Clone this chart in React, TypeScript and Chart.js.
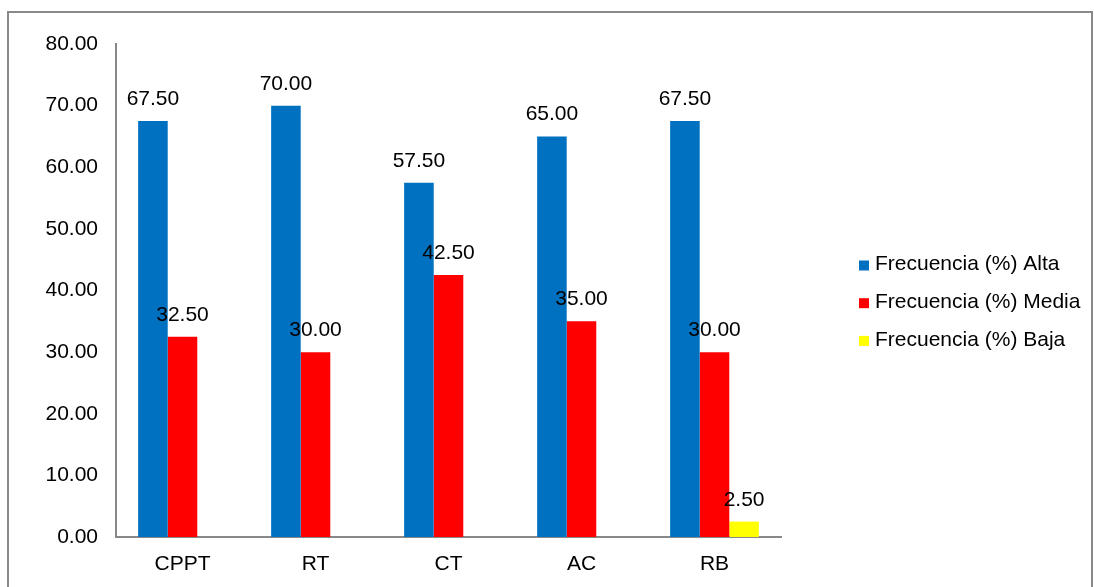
import React, { useEffect, useRef } from "react";
import { Chart, registerables } from "chart.js";

Chart.register(...registerables);

const categories = ["CPPT", "RT", "CT", "AC", "RB"];
const alta = [67.5, 70.0, 57.5, 65.0, 67.5];
const media = [32.5, 30.0, 42.5, 35.0, 30.0];
const baja = [null, null, null, null, 2.5];
const seriesNames = ["Frecuencia (%) Alta", "Frecuencia (%) Media", "Frecuencia (%) Baja"];
const seriesColors = ["#0070C0", "#FF0000", "#FFFF00"];

const FONT = '"Liberation Sans", Arial, sans-serif';

const valueLabels = {
  id: "valueLabels",
  afterDatasetsDraw(chart: any) {
    const ctx = chart.ctx;
    ctx.save();
    ctx.font = `21px ${FONT}`;
    ctx.fillStyle = "#000";
    ctx.textAlign = "center";
    ctx.textBaseline = "alphabetic";
    chart.data.datasets.forEach((ds: any, i: number) => {
      const meta = chart.getDatasetMeta(i);
      meta.data.forEach((el: any, j: number) => {
        const v = ds.data[j];
        if (v == null) return;
        ctx.fillText(Number(v).toFixed(2), el.x, el.y - 16);
      });
    });
    ctx.restore();
  },
};

// Legend drawn to the right of the plot area
const sideLegend = {
  id: "sideLegend",
  afterDraw(chart: any) {
    const ctx = chart.ctx;
    const boxX = 859;
    const firstY = 265.5;
    const step = 37.7;
    ctx.save();
    ctx.font = `21px ${FONT}`;
    ctx.textAlign = "left";
    ctx.textBaseline = "middle";
    chart.data.datasets.forEach((ds: any, i: number) => {
      const cy = firstY + i * step;
      ctx.fillStyle = ds.backgroundColor;
      ctx.fillRect(boxX, cy - 5, 10, 10);
      ctx.fillStyle = "#000";
      ctx.fillText(ds.label, boxX + 16, cy - 1);
    });
    ctx.restore();
  },
};

export default function App() {
  const ref = useRef<HTMLCanvasElement | null>(null);
  useEffect(() => {
    document.body.style.overflow = "hidden";
    const chart = new Chart(ref.current as HTMLCanvasElement, {
      type: "bar",
      data: {
        labels: categories,
        datasets: [alta, media, baja].map((d, i) => ({
          label: seriesNames[i],
          data: d,
          backgroundColor: seriesColors[i],
          borderWidth: 0,
          categoryPercentage: 0.667,
          barPercentage: 1,
        })),
      },
      options: {
        animation: false,
        responsive: false,
        layout: { padding: { top: 44, left: 0, right: 313, bottom: 0 } },
        plugins: {
          tooltip: { enabled: false },
          legend: { display: false },
        },
        scales: {
          x: {
            grid: { display: false },
            border: { display: true, color: "#888888", width: 2 },
            ticks: { color: "#000", padding: 7, font: { family: FONT, size: 21 } },
            afterFit: (s: any) => {
              s.height = 50;
            },
          },
          y: {
            min: 0,
            max: 80,
            grid: { display: false, drawTicks: false },
            border: { display: true, color: "#888888", width: 2 },
            ticks: {
              stepSize: 10,
              color: "#000",
              padding: 18,
              font: { family: FONT, size: 21 },
              callback: (v: any) => Number(v).toFixed(2),
            },
            afterFit: (s: any) => {
              s.width = 116;
            },
          },
        },
      },
      plugins: [valueLabels, sideLegend],
    } as any);
    return () => chart.destroy();
  }, []);
  return (
    <div>
      <div
        style={{
          position: "fixed",
          left: 7,
          top: 11,
          width: 1086,
          height: 700,
          boxSizing: "border-box",
          borderLeft: "2px solid #898989",
          borderTop: "2px solid #898989",
          borderRight: "2px solid #898989",
        }}
      />
      <canvas
        ref={ref}
        width={1094}
        height={587}
        style={{ position: "fixed", left: 0, top: 0, width: 1094, height: 587 }}
      />
    </div>
  );
}
